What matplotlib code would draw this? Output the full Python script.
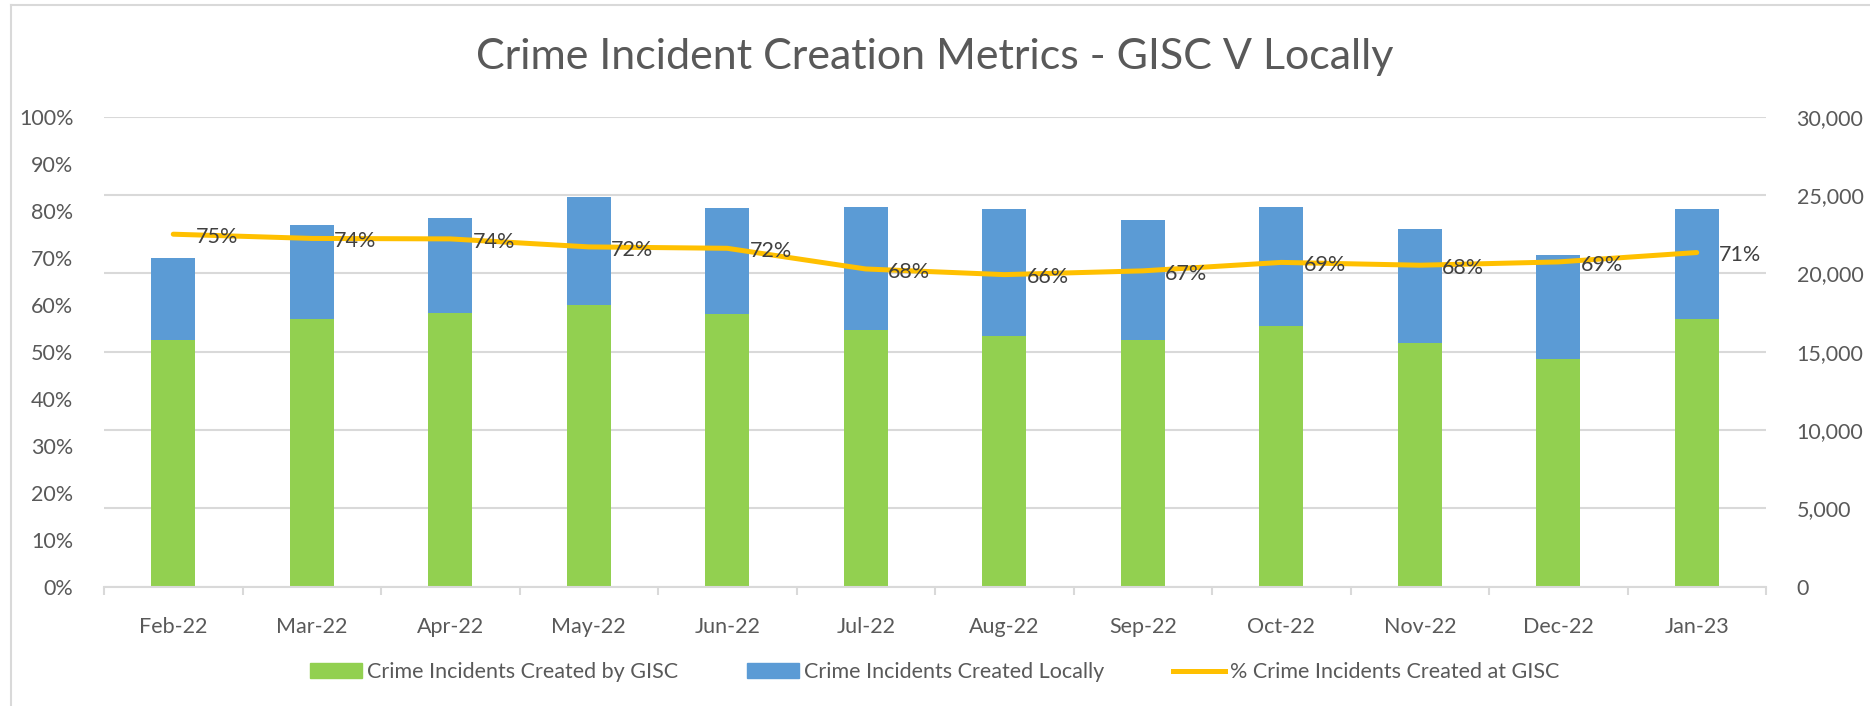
import matplotlib.pyplot as plt
import matplotlib.patches as mpatches
from matplotlib.lines import Line2D
from matplotlib.ticker import FuncFormatter, PercentFormatter
import numpy as np

months = ['Feb-22', 'Mar-22', 'Apr-22', 'May-22', 'Jun-22', 'Jul-22',
          'Aug-22', 'Sep-22', 'Oct-22', 'Nov-22', 'Dec-22', 'Jan-23']
gisc = [15750, 17070, 17460, 17970, 17385, 16380,
        16020, 15750, 16650, 15540, 14550, 17070]
local = [5250, 6020, 6090, 6885, 6795, 7860,
         8100, 7650, 7605, 7260, 6630, 7050]
pct_gisc = [0.750, 0.741, 0.740, 0.723, 0.720, 0.676,
            0.664, 0.672, 0.690, 0.684, 0.691, 0.711]

green = '#92D050'
blue = '#5B9BD5'
gold = '#FFC000'
grid_c = '#D9D9D9'
txt = '#595959'

plt.rcParams['font.family'] = ['Lato', 'DejaVu Sans']

W, H = 1870, 706
fig = plt.figure(figsize=(W / 100, H / 100), dpi=100)

# chart border: only left and top edges are visible in the original
fig.add_artist(Line2D([11 / W, 11 / W], [0, 1 - 5 / H], transform=fig.transFigure, color=grid_c, lw=1.5))
fig.add_artist(Line2D([11 / W, 1], [1 - 5 / H, 1 - 5 / H], transform=fig.transFigure, color=grid_c, lw=1.5))

left, right, top, bottom = 104, 1766, 116.7, 586.7
ax = fig.add_axes([left / W, 1 - bottom / H, (right - left) / W, (bottom - top) / H])
ax2 = ax.twinx()

x = np.arange(len(months))
ax.bar(x, gisc, width=0.32, color=green, zorder=2)
ax.bar(x, local, width=0.32, bottom=gisc, color=blue, zorder=2)
ax.set_ylim(0, 30000)
ax.set_xlim(-0.5, len(months) - 0.5)
ax.set_yticks(np.arange(0, 30001, 5000))
ax.yaxis.set_major_formatter(FuncFormatter(lambda v, p: f'{int(v):,}'))
ax.yaxis.tick_right()
ax.grid(axis='y', color=grid_c, lw=1.5, zorder=0)
ax.set_axisbelow(True)
for s in ['top', 'left', 'right']:
    ax.spines[s].set_visible(False)
ax.spines['bottom'].set_color(grid_c)
ax.spines['bottom'].set_linewidth(1.5)
ax.tick_params(axis='y', length=0, pad=22, labelsize=15.5, labelcolor=txt)
ax.set_xticks(x)
ax.set_xticklabels(months)
ax.set_xticks(np.arange(-0.5, len(months)), minor=True)
ax.tick_params(axis='x', which='major', length=0, pad=22, labelsize=15.5, labelcolor=txt)
ax.tick_params(axis='x', which='minor', length=6, width=1.5, color=grid_c)

ax2.plot(x, pct_gisc, color=gold, lw=3.6, solid_capstyle='round', solid_joinstyle='round', zorder=3)
ax2.set_ylim(0, 1)
ax2.set_yticks(np.arange(0, 1.01, 0.1))
ax2.yaxis.set_major_formatter(PercentFormatter(1.0, decimals=0))
ax2.yaxis.tick_left()
ax2.tick_params(axis='y', length=0, pad=22, labelsize=15.5, labelcolor=txt)
for s in ax2.spines.values():
    s.set_visible(False)
for xi, p in zip(x, pct_gisc):
    ax2.annotate(f'{round(p * 100):d}%', (xi, p), xytext=(16, -2), textcoords='offset points',
                 ha='left', va='center', fontsize=15.5, color='#404040')

fig.text(0.5, 1 - 57 / H, 'Crime Incident Creation Metrics - GISC V Locally',
         ha='center', va='center', fontsize=31, color=txt)

handles = [mpatches.Patch(color=green, label='Crime Incidents Created by GISC'),
           mpatches.Patch(color=blue, label='Crime Incidents Created Locally'),
           Line2D([0], [0], color=gold, lw=3.6, label='% Crime Incidents Created at GISC')]
fig.legend(handles=handles, loc='center', bbox_to_anchor=(0.5, 1 - 672 / H), ncol=3,
           frameon=False, fontsize=15.5, labelcolor=txt, handlelength=2.4, handleheight=0.65,
           handletextpad=0.25, columnspacing=3.2)

fig.savefig('out.png', dpi=100)
